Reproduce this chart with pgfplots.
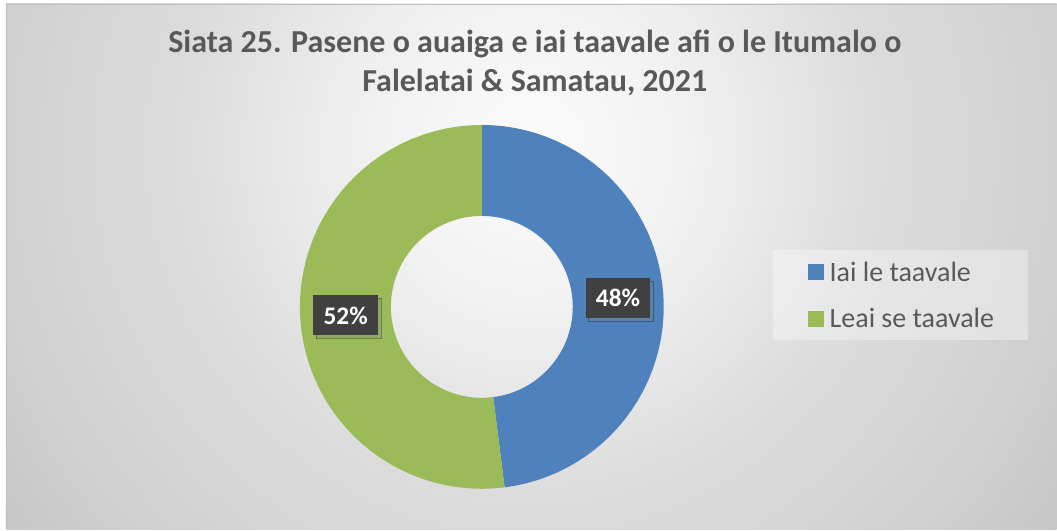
\documentclass[border=0pt]{standalone}
\usepackage{pgfplots}
\pgfplotsset{compat=1.18}
\usepackage{fontspec}
\setmainfont{Carlito}
\usetikzlibrary{shadows}
\definecolor{cblue}{HTML}{4F81BD}
\definecolor{cgreen}{HTML}{9BBB59}
\definecolor{ctext}{HTML}{595959}
\definecolor{labelbg}{HTML}{404040}
\definecolor{bgA}{HTML}{FBFBFB}
\definecolor{bgB}{HTML}{F2F2F2}
\definecolor{bgC}{HTML}{DCDCDC}
\definecolor{bgD}{HTML}{D0D0D0}
\definecolor{bgE}{HTML}{C6C6C6}
\pgfdeclareradialshading{bgshade}{\pgfpoint{0bp}{0bp}}{color(0bp)=(bgA); color(4.7bp)=(bgB); color(10.9bp)=(bgC); color(16.9bp)=(bgD); color(20.3bp)=(bgE); color(50bp)=(bgE)}
% data: percentages
\newcommand\valA{48}
\newcommand\valB{52}
\newcommand\ringslice[3]{%
\addplot[fill=#1, draw=none, samples at={0,1,...,101}, variable=\t]
 ({(\t<=50?1:0.5)*cos(90-3.6*(#2+(#3-#2)*(\t<=50?\t/50:(101-\t)/50)))},
  {(\t<=50?1:0.5)*sin(90-3.6*(#2+(#3-#2)*(\t<=50?\t/50:(101-\t)/50)))});
}
\begin{document}
\begin{tikzpicture}
\fill[white] (0,0) rectangle (792.75pt,397.5pt);
\begin{scope}
\clip (4.5pt,0pt) rectangle (792.75pt,394.5pt);
\shade[shading=bgshade] (397.5pt,285pt) circle (600pt);
\end{scope}
\draw[color=black!25, line width=0.6pt] (4.5pt,0pt) -- (4.5pt,394.5pt) -- (792.75pt,394.5pt);
\fill[white, opacity=0.35] (579.75pt,142.5pt) rectangle (771pt,210pt);
\node[anchor=base, text=ctext, font=\bfseries\fontsize{24}{29}\selectfont, inner sep=0pt] at (401.25pt,357.75pt) {Siata 25. Pasene o auaiga e iai taavale afi o le Itumalo o};
\node[anchor=base, text=ctext, font=\bfseries\fontsize{24}{29}\selectfont, inner sep=0pt] at (401.25pt,328.5pt) {Falelatai \& Samatau, 2021};
\begin{axis}[
  at={(361.5pt,167.25pt)}, anchor=center,
  scale only axis, width=273pt, height=273pt,
  xmin=-1, xmax=1, ymin=-1, ymax=1,
  hide axis, clip=false,
  legend cell align=left,
  legend image code/.code={\fill[#1] (0pt,-6pt) rectangle (12pt,6pt);},
  legend style={draw=none, fill=none, text=ctext, font=\fontsize{21}{25}\selectfont,
    at={(1.3966,0.632)}, anchor=north west, row sep=15pt, inner sep=0pt,
    nodes={inner xsep=4pt}},
]
\ringslice{cblue}{0}{\valA}
\addlegendentry{Iai le taavale}
\ringslice{cgreen}{\valA}{100}
\addlegendentry{Leai se taavale}
\addplot[only marks, mark=none, forget plot, nodes near coords, point meta=explicit symbolic,
  nodes near coords style={anchor=center, fill=labelbg, text=white, drop shadow={opacity=0.3, shadow xshift=2pt, shadow yshift=-2pt},
    font=\bfseries\fontsize{19}{22}\selectfont, minimum width=48.75pt, minimum height=30pt, inner sep=0pt}]
  coordinates {(0.7485,0.0471) [48\%] (-0.7485,-0.0471) [52\%]};
\end{axis}
\end{tikzpicture}
\end{document}
